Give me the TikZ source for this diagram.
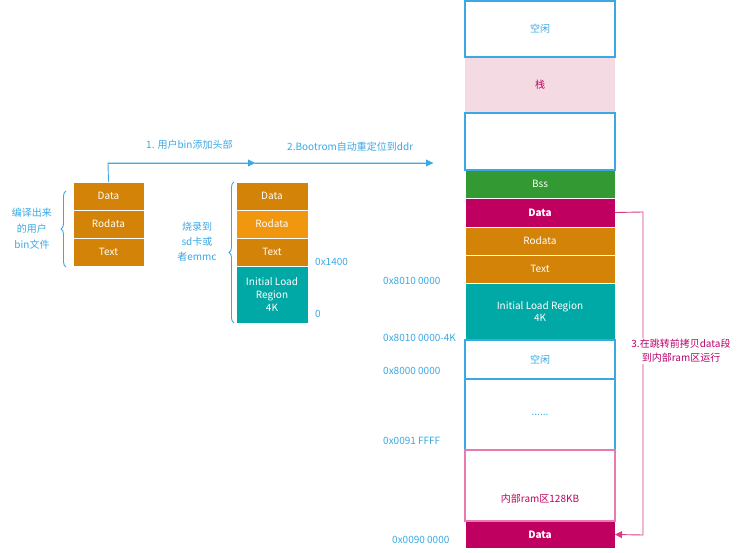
\documentclass[tikz,border=0pt]{standalone}
\usepackage{fontspec}
\setmainfont{Noto Sans CJK SC}
\usetikzlibrary{arrows.meta,decorations.pathreplacing}
\definecolor{cblue}{HTML}{3AA8E4}
\definecolor{corange}{HTML}{D38307}
\definecolor{corangeb}{HTML}{F0960F}
\definecolor{cgreen}{HTML}{339933}
\definecolor{cmag}{HTML}{C00060}
\definecolor{cteal}{HTML}{00A9A5}
\definecolor{cpink}{HTML}{F4DAE2}
\definecolor{cpinkline}{HTML}{D83A86}
\definecolor{cpinklight}{HTML}{E87AB0}
\definecolor{cmagtext}{HTML}{B8006A}
\begin{document}
\begin{tikzpicture}[x=1pt,y=-1pt,
  font=\fontsize{10}{12}\selectfont,
  seg/.style={anchor=north west,inner sep=0pt,outer sep=0pt,line width=0.8pt,draw=white,text=white,align=center},
  frame/.style={anchor=north west,inner sep=0pt,outer sep=0pt,line width=1.2pt,draw=cblue,text=cblue,align=center},
  lbl/.style={text=cblue,inner sep=0pt,align=center},
  addr/.style={text=cblue,inner sep=0pt,anchor=west},
  brc/.style={draw=cblue,line width=0.9pt,decorate,decoration={brace,amplitude=5pt}},
  tip/.style={-{Triangle[length=7pt,width=7pt]}}
]
\useasboundingbox (0,0) rectangle (743,553);

% left column
\node[seg,fill=corange,minimum width=71pt,minimum height=28pt] (ldata) at (73,182) {Data};
\node[seg,fill=corange,minimum width=71pt,minimum height=28pt] (lrodata) at (73,210) {Rodata};
\node[seg,fill=corange,minimum width=71pt,minimum height=28pt] (ltext) at (73,238) {Text};

% middle column
\node[seg,fill=corange,minimum width=72pt,minimum height=28pt] (mdata) at (236,182) {Data};
\node[seg,fill=corangeb,minimum width=72pt,minimum height=28pt] (mrodata) at (236,210) {Rodata};
\node[seg,fill=corange,minimum width=72pt,minimum height=28pt] (mtext) at (236,238) {Text};
\node[seg,fill=cteal,minimum width=72pt,minimum height=57pt,font=\fontsize{10}{13}\selectfont] (milr) at (236,266) {Initial Load\\Region\\4K};

% right column (filled segments)
\node[seg,draw=none,fill=cpink,text=cmag,minimum width=150pt,minimum height=56pt] (stack) at (465,57) {栈};
\node[seg,fill=cgreen,minimum width=150pt,minimum height=28pt] (bss) at (465,170) {Bss};
\node[seg,fill=cmag,minimum width=150pt,minimum height=29pt,font=\fontsize{10}{12}\selectfont\bfseries] (rdata) at (465,198) {Data};
\node[seg,fill=corange,minimum width=150pt,minimum height=28pt] (rrodata) at (465,227) {Rodata};
\node[seg,fill=corange,minimum width=150pt,minimum height=28pt] (rtext) at (465,255) {Text};
\node[seg,fill=cteal,minimum width=150pt,minimum height=57pt] (rilr) at (465,283) {Initial Load Region\\4K};
\node[seg,fill=cmag,minimum width=150pt,minimum height=27pt,font=\fontsize{10}{12}\selectfont\bfseries] (rdata2) at (465,521) {Data};

% right column (framed segments)
\node[frame,minimum width=150pt,minimum height=56pt] (free1) at (465,1) {空闲};
\node[frame,minimum width=150pt,minimum height=57pt] (blank) at (465,113) {};
\node[frame,minimum width=150pt,minimum height=39pt] (free2) at (465,340) {空闲};
\node[frame,minimum width=150pt,minimum height=71pt] (dots) at (465,379) {......};
\node[frame,draw=cpinklight,minimum width=150pt,minimum height=71pt] (ram) at (465,450) {};
\node[text=cmag,inner sep=0pt] (ramtxt) at (540,499) {内部ram区128KB};

% braces and their labels
\draw[brc] (66,267) -- (66,191);
\node[lbl,font=\fontsize{10}{16}\selectfont] (lbrace) at (32,229) {编译出来\\的用户\\bin文件};
\draw[brc] (234,323) -- (234,182);
\node[lbl,font=\fontsize{10}{15}\selectfont] (mbrace) at (197,242) {烧录到\\sd卡或\\者emmc};

% addresses
\node[addr] (a1400) at (315,262) {0x1400};
\node[addr] (a0) at (315,314) {0};
\node[addr] (a8010) at (383,281) {0x8010 0000};
\node[addr] (a80104k) at (383,338) {0x8010 0000-4K};
\node[addr] (a8000) at (383,371) {0x8000 0000};
\node[addr] (a0091) at (383,441) {0x0091 FFFF};
\node[addr] (a0090) at (392,540) {0x0090 0000};

% top flow arrow
\coordinate (turn) at (108,163);
\coordinate (mid) at (255,163);
\coordinate (fin) at (433,163);
\draw[cblue,line width=0.9pt] (ldata.north) -- (turn) -- (fin);
\draw[cblue,line width=0.9pt,tip] (turn) -- (mid);
\draw[cblue,line width=0.9pt,tip] (mid) -- (fin);
\node[lbl,anchor=west] (l1) at (146,145) {1. 用户bin添加头部};
\node[lbl,anchor=west] (l2) at (287,147) {2.Bootrom自动重定位到ddr};

% copy data arrow
\coordinate (c1) at (643,212);
\coordinate (c2) at (643,535);
\draw[cpinkline,line width=0.9pt,tip] (rdata.east) -- (c1) -- (c2) -- (rdata2.east);
\node[fill=white,text=cmagtext,inner sep=1pt,align=center,font=\fontsize{10}{14}\selectfont] (l3) at (681,351) {3.在跳转前拷贝data段\\到内部ram区运行};
\end{tikzpicture}
\end{document}
